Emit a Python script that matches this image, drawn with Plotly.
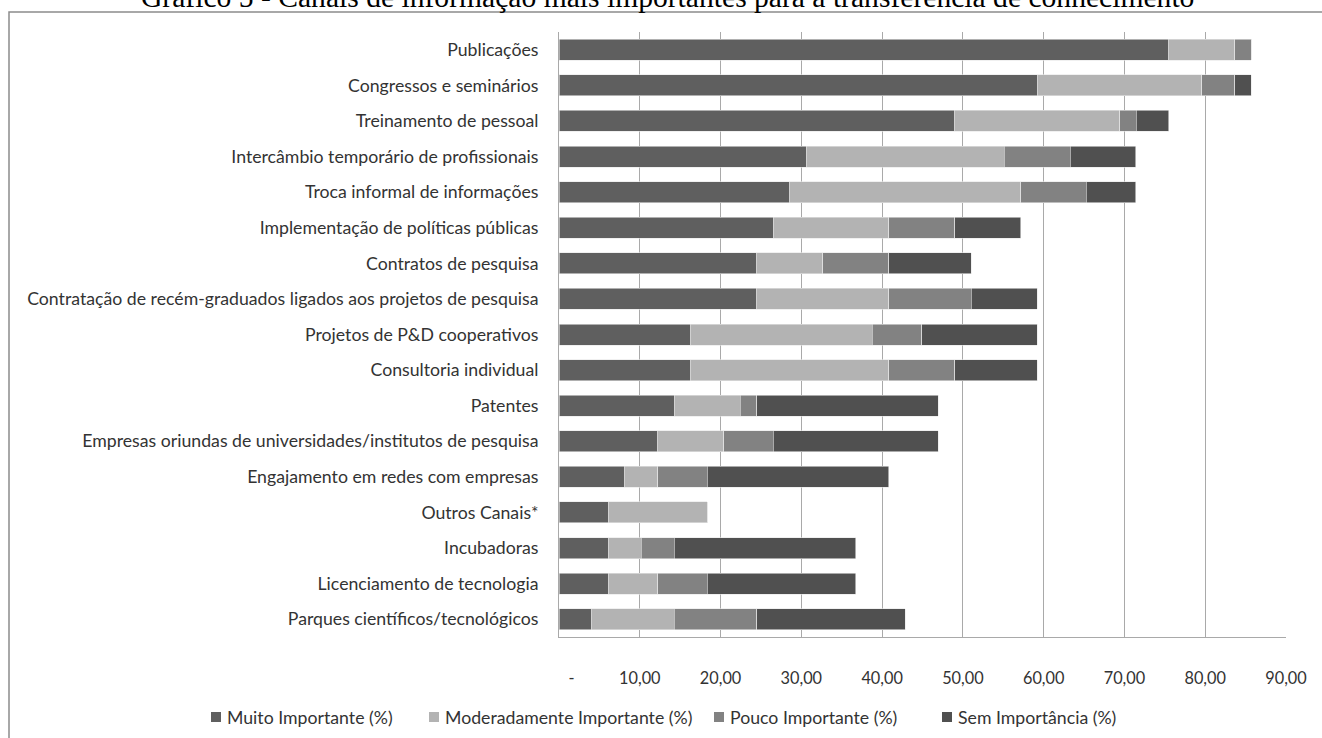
import plotly.graph_objects as go

# Canais de transferência de conhecimento (de cima para baixo)
canais = [
    "Publicações",
    "Congressos e seminários",
    "Treinamento de pessoal",
    "Intercâmbio temporário de profissionais",
    "Troca informal de informações",
    "Implementação de políticas públicas",
    "Contratos de pesquisa",
    "Contratação de recém-graduados ligados aos projetos de pesquisa",
    "Projetos de P&D cooperativos",
    "Consultoria individual",
    "Patentes",
    "Empresas oriundas de universidades/institutos de pesquisa",
    "Engajamento em redes com empresas",
    "Outros Canais*",
    "Incubadoras",
    "Licenciamento de tecnologia",
    "Parques científicos/tecnológicos",
]

muito_importante = [75.51, 59.18, 48.98, 30.61, 28.57, 26.53, 24.49, 24.49, 16.33,
                    16.33, 14.29, 12.24, 8.16, 6.12, 6.12, 6.12, 4.08]
moderadamente_importante = [8.16, 20.41, 20.41, 24.49, 28.57, 14.29, 8.16, 16.33, 22.45,
                            24.49, 8.16, 8.16, 4.08, 12.24, 4.08, 6.12, 10.20]
pouco_importante = [2.04, 4.08, 2.04, 8.16, 8.16, 8.16, 8.16, 10.20, 6.12,
                    8.16, 2.04, 6.12, 6.12, 0.00, 4.08, 6.12, 10.20]
sem_importancia = [0.00, 2.04, 4.08, 8.16, 6.12, 8.16, 10.20, 8.16, 14.29,
                   10.20, 22.45, 20.41, 22.45, 0.00, 22.45, 18.37, 18.37]

tick_vals = [0, 10, 20, 30, 40, 50, 60, 70, 80, 90]
tick_text = ["\u00a0" * 6 + "-", "10,00", "20,00", "30,00", "40,00",
             "50,00", "60,00", "70,00", "80,00", "90,00"]

series_names = ["Muito Importante (%)", "Moderadamente Importante (%)",
                "Pouco Importante (%)", "Sem Importância (%)"]
series_values = [muito_importante, moderadamente_importante,
                 pouco_importante, sem_importancia]
series_colors = ["#5f5f5f", "#b3b3b3", "#828282", "#505050"]

W, H = 1322, 738
ML, MR, MT, MB = 559, 36, 32, 101
PW, PH = W - ML - MR, H - MT - MB


def px_x(p):
    return (p - ML) / PW


def px_y(p):
    return (H - MB - p) / PH


FONT = "Lato, 'Open Sans', sans-serif"
TXT = "#333333"
LABEL_SIZE = 17.7

fig = go.Figure()
for name, vals, color in zip(series_names, series_values, series_colors):
    fig.add_trace(go.Bar(
        y=canais, x=vals, name=name, orientation="h",
        marker=dict(color=color, line=dict(color="#e6e6e6", width=0.6)),
    ))

fig.update_layout(
    width=W, height=H,
    margin=dict(l=ML, r=MR, t=MT, b=MB),
    barmode="stack", bargap=0.41,
    plot_bgcolor="white", paper_bgcolor="white",
    font=dict(family=FONT, size=LABEL_SIZE, color=TXT),
    showlegend=False,
    xaxis=dict(
        range=[0, 90], tickvals=tick_vals, ticktext=tick_text,
        showgrid=True, gridcolor="#a9a9a9", gridwidth=1,
        showline=True, linecolor="#a9a9a9", linewidth=1,
        zeroline=False, ticks="", ticklabelstandoff=26,
        tickfont=dict(family=FONT, size=16.3, color=TXT),
    ),
    yaxis=dict(
        categoryorder="array", categoryarray=canais[::-1],
        showgrid=False, showline=True, linecolor="#a9a9a9", linewidth=1,
        ticks="", ticklabelstandoff=16,
        tickfont=dict(family=FONT, size=LABEL_SIZE, color=TXT),
    ),
)

# Moldura do gráfico
fig.add_shape(
    type="rect", xref="paper", yref="paper",
    x0=px_x(9), x1=px_x(W + 20), y0=px_y(H + 20), y1=px_y(12),
    line=dict(color="#8c8c8c", width=1.5), fillcolor="rgba(0,0,0,0)",
    layer="above",
)

# Legenda em linha única, abaixo do eixo
legend_x = [211, 429, 714, 942]
legend_y = 717
for x0, name, color in zip(legend_x, series_names, series_colors):
    fig.add_shape(
        type="rect", xref="paper", yref="paper",
        x0=px_x(x0), x1=px_x(x0 + 10), y0=px_y(legend_y + 5), y1=px_y(legend_y - 5),
        line=dict(width=0), fillcolor=color,
    )
    fig.add_annotation(
        text=name, xref="paper", yref="paper",
        x=px_x(x0 + 14), y=px_y(legend_y), xanchor="left", yanchor="middle",
        showarrow=False, font=dict(family=FONT, size=LABEL_SIZE, color=TXT),
    )

# Título
fig.add_annotation(
    text="Gráfico 5 - Canais de informação mais importantes para a transferência de conhecimento",
    xref="paper", yref="paper", x=px_x(667), y=px_y(-3),
    xanchor="center", yanchor="middle", showarrow=False,
    font=dict(family="'Liberation Serif', 'Times New Roman', serif", size=29.6, color="#000000"),
)

fig.write_html("out.html")
